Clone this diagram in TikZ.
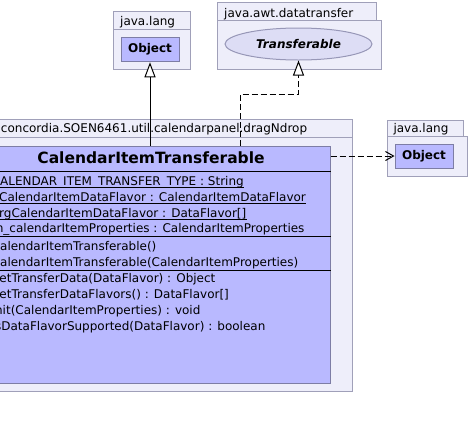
\documentclass[tikz,border=0pt]{standalone}
\usepackage{fontspec}
\setmainfont{DejaVu Sans}
\usepackage{tikz}
\usetikzlibrary{arrows.meta, shapes.geometric, positioning}

\definecolor{pkgfill}{RGB}{238,238,250}
\definecolor{pkgline}{RGB}{160,160,185}
\definecolor{clsfill}{RGB}{185,185,255}
\definecolor{clsline}{RGB}{125,125,165}
\definecolor{ifcfill}{RGB}{221,221,245}

\tikzset{
  pkg/.style={draw=pkgline, fill=pkgfill, line width=1pt},
  cls/.style={draw=clsline, fill=clsfill, line width=1pt, inner sep=0pt},
  txt/.style={anchor=base west, inner sep=0pt, font=\fontsize{12}{14}\selectfont},
  gen/.style={line width=1pt, -{Triangle[length=15pt, width=11pt, fill=white]}},
  real/.style={gen, dash pattern=on 6pt off 3pt},
  dep/.style={line width=1pt, dash pattern=on 6pt off 3pt, -{Straight Barb[length=8pt, width=9pt]}},
}

\begin{document}
\begin{tikzpicture}[x=1pt, y=-1pt]
  \useasboundingbox (0,0) rectangle (470,429);
  \fill[white] (0,0) rectangle (470,429);
  \clip (0,0) rectangle (470,429);

  % pacchetti
  \draw[pkg] (113,11.7) rectangle (190,29.3);
  \draw[pkg] (113,29.3) rectangle (190,69);
  \node[txt] (langA) at (120,25) {java.lang};

  \draw[pkg] (217.7,2.7) rectangle (376.7,20.7);
  \draw[pkg] (217.7,20.7) rectangle (381,69);
  \node[txt] (awt) at (224,17.3) {java.awt.datatransfer};

  \draw[pkg] (-36,119) rectangle (352,137);
  \draw[pkg] (-36,137) rectangle (352,391);
  \node[txt] (dnd) at (0.8,132) {concordia.SOEN6461.util.calendarpanel.dragNdrop};

  \draw[pkg] (387.3,120) rectangle (463.3,136);
  \draw[pkg] (387.3,136) rectangle (467.3,176);
  \node[txt] (langB) at (393.3,132) {java.lang};

  % classi esterne
  \node[cls, minimum width=58pt, minimum height=24.5pt, font=\fontsize{12}{14}\selectfont\bfseries]
    (obj) at (150,49.5) {Object};
  \node[cls, minimum width=58pt, minimum height=24pt, font=\fontsize{12}{14}\selectfont\bfseries]
    (objB) at (424,156) {Object};
  \node[ellipse, draw=clsline!80, fill=ifcfill, line width=1pt, inner sep=0pt,
        minimum width=147pt, minimum height=32pt,
        font=\fontsize{12}{14}\selectfont\bfseries\itshape]
    (trf) at (298.5,44) {Transferable};

  % classe
  \node[cls, minimum width=358pt, minimum height=237pt] (cit) at (151,264.5) {};
  \node[anchor=base, inner sep=0pt, font=\fontsize{15.5}{18}\selectfont\bfseries]
    (citname) at (151,163) {CalendarItemTransferable};
  \draw[line width=1pt] (-30,171) -- (cit.east |- 0,171);
  \draw[line width=1pt] (-30,236) -- (cit.east |- 0,236);
  \draw[line width=1pt] (-30,270) -- (cit.east |- 0,270);

  \def\xt{-8.4}
  \node[txt] (a1) at (\xt,185)   {CALENDAR\_ITEM\_TRANSFER\_TYPE : String};
  \node[txt] (a2) at (\xt,201)   {aCalendarItemDataFlavor : CalendarItemDataFlavor};
  \node[txt] (a3) at (\xt,217)   {argCalendarItemDataFlavor : DataFlavor[]};
  \node[txt] (a4) at (\xt,232.5) {m\_calendarItemProperties : CalendarItemProperties};
  \foreach \n in {a1,a2,a3}
    \draw[line width=1pt] ([yshift=-2.4pt]\n.base west) -- ([yshift=-2.4pt]\n.base east);

  \node[txt] (c1) at (\xt,250) {CalendarItemTransferable()};
  \node[txt] (c2) at (\xt,266) {CalendarItemTransferable(CalendarItemProperties)};

  \node[txt] (m1) at (\xt,282.5) {getTransferData(DataFlavor) : Object};
  \node[txt] (m2) at (\xt,298.5) {getTransferDataFlavors() : DataFlavor[]};
  \node[txt] (m3) at (\xt,314.5) {init(CalendarItemProperties) : void};
  \node[txt] (m4) at (\xt,330)   {isDataFlavorSupported(DataFlavor) : boolean};

  % frecce
  \coordinate (bend) at (240,94);
  \draw[gen] (obj.south |- cit.north) -- (obj.south);
  \draw[real] (bend |- cit.north) -- (bend) -| (trf.south);
  \draw[dep] (cit.east |- objB.west) -- (objB.west);
\end{tikzpicture}
\end{document}
